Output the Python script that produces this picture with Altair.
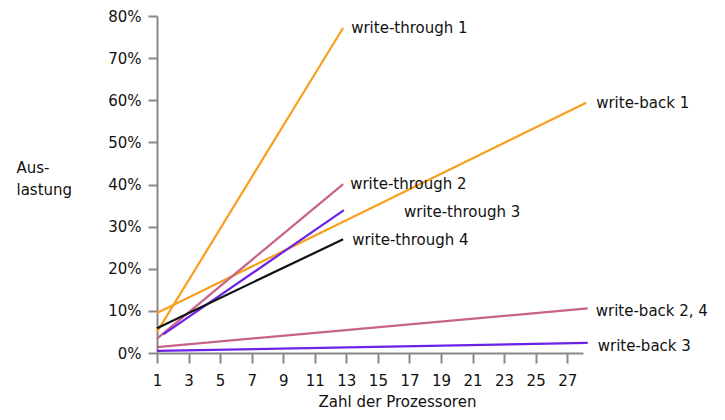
import altair as alt
import pandas as pd

# line data: name, start/end x, start/end y (fraction)
names = ["write-through 1", "write-back 1", "write-through 2", "write-through 3",
         "write-through 4", "write-back 2, 4", "write-back 3"]
x_start = [1.0, 1.0, 1.0, 1.4, 1.0, 1.0, 1.0]
x_end = [12.8, 28.2, 12.8, 12.85, 12.8, 28.3, 28.3]
y_start = [0.050, 0.095, 0.034, 0.044, 0.059, 0.014, 0.005]
y_end = [0.772, 0.594, 0.401, 0.339, 0.270, 0.106, 0.024]
colors = ["#F8A01C", "#F8A01C", "#C7628A", "#6B22E6", "#111111", "#C7628A", "#6B22E6"]
label_dx = [8, 10, 7, 60, 9, 8, 10]
label_dy = [0, 0, 0, 2, 1, 3, 3]

x_ticks = [1, 3, 5, 7, 9, 11, 13, 15, 17, 19, 21, 23, 25, 27]
y_ticks = [0, 0.1, 0.2, 0.3, 0.4, 0.5, 0.6, 0.7, 0.8]

rows = []
for i, n in enumerate(names):
    rows.append({"name": n, "x": x_start[i], "y": y_start[i], "order": 0})
    rows.append({"name": n, "x": x_end[i], "y": y_end[i], "order": 1})
lines_df = pd.DataFrame(rows)
labels_df = pd.DataFrame({"name": names, "x": x_end, "y": y_end})

FONT = "DejaVu Sans"

xscale = alt.Scale(domain=[1, 28], nice=False, zero=False)
yscale = alt.Scale(domain=[0, 0.8], nice=False)
cscale = alt.Scale(domain=names, range=colors)

xaxis = alt.Axis(values=x_ticks, title="Zahl der Prozessoren", grid=False,
                 tickSize=10, labelPadding=10, titlePadding=6,
                 titleX=240, labelFlush=False, labelOverlap=False)
yaxis = alt.Axis(values=y_ticks, format=".0%", title=["Aus-", "lastung"],
                 grid=False, tickSize=9, labelPadding=7, labelOverlap=False,
                 titleAngle=0, titleAlign="left", titleBaseline="top",
                 titleX=-141, titleY=144, titleLineHeight=22)

lines = alt.Chart(lines_df).mark_line(strokeWidth=2.2, clip=False).encode(
    x=alt.X("x:Q", scale=xscale, axis=xaxis),
    y=alt.Y("y:Q", scale=yscale, axis=yaxis),
    color=alt.Color("name:N", scale=cscale, legend=None),
    detail="name:N",
    order="order:Q",
)

label_layers = []
for i, n in enumerate(names):
    t = alt.Chart(labels_df[labels_df["name"] == n]).mark_text(
        align="left", baseline="middle", dx=label_dx[i], dy=label_dy[i],
        font=FONT, fontSize=15, color="#111111", clip=False
    ).encode(x=alt.X("x:Q", scale=xscale, axis=xaxis),
             y=alt.Y("y:Q", scale=yscale, axis=yaxis), text="name:N")
    label_layers.append(t)

chart = alt.layer(lines, *label_layers).properties(
    width=426, height=337,
    autosize=alt.AutoSizeParams(type="none"),
    padding={"left": 149, "top": 8, "right": 130, "bottom": 58},
).configure_view(stroke=None).configure_axis(
    domainColor="#888888", tickColor="#888888", domainWidth=2, tickWidth=2,
    labelFont=FONT, labelFontSize=15, labelColor="#111111",
    titleFont=FONT, titleFontSize=15, titleColor="#111111", titleFontWeight="normal",
)

chart.save("out.html", embed_options={"renderer": "svg", "actions": False})
